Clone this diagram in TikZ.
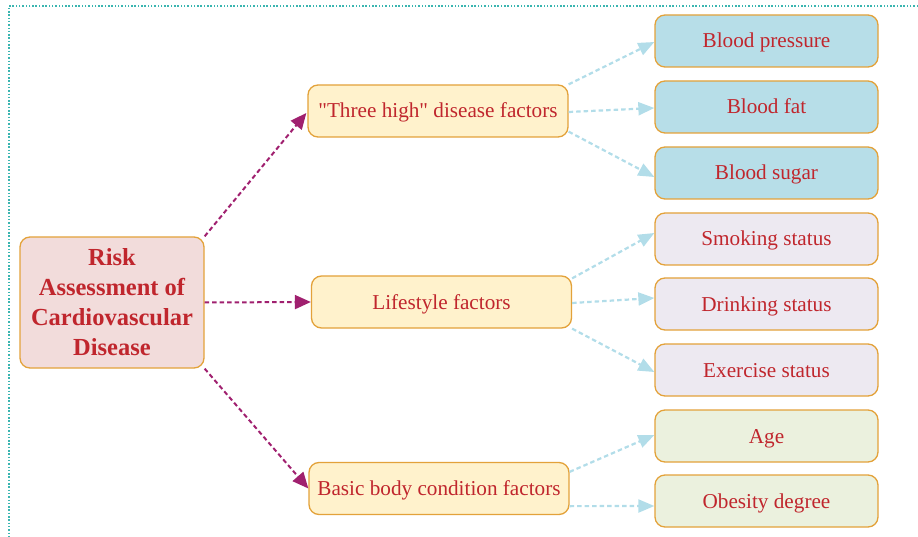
\documentclass[tikz,border=0pt]{standalone}
\usepackage{fontspec}
\setmainfont{Liberation Serif}[Ligatures=TeXOff]
\usetikzlibrary{arrows.meta,calc}
\definecolor{txtred}{HTML}{C0262D}
\definecolor{boxorange}{HTML}{E3A23A}
\definecolor{rootfill}{HTML}{F2DCDB}
\definecolor{midfill}{HTML}{FFF2CC}
\definecolor{bluefill}{HTML}{B7DEE8}
\definecolor{lavfill}{HTML}{EDE9F1}
\definecolor{greenfill}{HTML}{EBF1DE}
\definecolor{magarrow}{HTML}{A0206F}
\definecolor{bluearrow}{HTML}{B2DDE9}
\definecolor{frameteal}{HTML}{3AB5B0}
\tikzset{
  basebox/.style={draw=boxorange, line width=1.3pt, rounded corners=10pt, text=txtred, inner sep=0pt, align=center},
  rootbox/.style={basebox, fill=rootfill, minimum width=184pt, minimum height=131pt, font=\fontsize{24.5}{30}\selectfont\bfseries},
  midbox/.style={basebox, fill=midfill, minimum width=260pt, minimum height=52pt, text height=16pt, text depth=2pt, font=\fontsize{21.2}{25}\selectfont},
  leafbox/.style={basebox, minimum width=223pt, minimum height=52pt, text height=16pt, text depth=2pt, font=\fontsize{21.2}{25}\selectfont},
  magline/.style={draw=magarrow, line width=2pt, dash pattern=on 4.5pt off 3pt, -{Triangle[length=16pt,width=14pt]}},
  blueline/.style={draw=bluearrow, line width=2.2pt, dash pattern=on 4.5pt off 3pt, -{Triangle[length=16pt,width=13pt]}},
  framedots/.style={draw=frameteal, line width=1.2pt, dash pattern=on 1.5pt off 1.8pt}
}
\begin{document}
\begin{tikzpicture}[x=1pt,y=-1pt]
\useasboundingbox (0,0) rectangle (918,537);
\coordinate (ftop) at (918,6);
\coordinate (fcorner) at (9,6);
\coordinate (fbottom) at (9,537);
\draw[framedots] (ftop) -- (fcorner) -- (fbottom);

\node[rootbox] (root) at (112,302.5) {Risk\\Assessment of\\Cardiovascular\\Disease};

\node[midbox] (m1) at (438,111) {"Three high" disease factors};
\node[midbox] (m2) at (441.5,302) {Lifestyle factors};
\node[midbox] (m3) at (439,488.5) {Basic body condition factors};

\node[leafbox, fill=bluefill] (l1) at (766.5,41) {Blood pressure};
\node[leafbox, fill=bluefill] (l2) at (766.5,107) {Blood fat};
\node[leafbox, fill=bluefill] (l3) at (766.5,173) {Blood sugar};
\node[leafbox, fill=lavfill] (l4) at (766.5,239) {Smoking status};
\node[leafbox, fill=lavfill] (l5) at (766.5,304) {Drinking status};
\node[leafbox, fill=lavfill] (l6) at (766.5,370) {Exercise status};
\node[leafbox, fill=greenfill] (l7) at (766.5,436) {Age};
\node[leafbox, fill=greenfill] (l8) at (766.5,501) {Obesity degree};

\draw[magline] (root.north east) -- ($(m1.west)+(-1,2)$);
\draw[magline] (root.east) -- (m2.west);
\draw[magline] (root.south east) -- (m3.west);

\draw[blueline] ($(m1.north east)+(0,0)$) -- ($(l1.west)+(0,1)$);
\draw[blueline] ($(m1.east)+(0,1)$) -- ($(l2.west)+(0,1)$);
\draw[blueline] ($(m1.south east)+(0,-6)$) -- ($(l3.west)+(0,4)$);

\draw[blueline] ($(m2.north east)+(0,3)$) -- ($(l4.west)+(0,-6)$);
\draw[blueline] ($(m2.east)+(0,1)$) -- ($(l5.west)+(0,-6)$);
\draw[blueline] ($(m2.south east)+(0,0)$) -- ($(l6.west)+(0,2)$);

\draw[blueline] ($(m3.north east)+(0,10)$) -- ($(l7.west)+(0,-1)$);
\draw[blueline] ($(m3.south east)+(0,-9)$) -- ($(l8.west)+(0,5)$);
\end{tikzpicture}
\end{document}
